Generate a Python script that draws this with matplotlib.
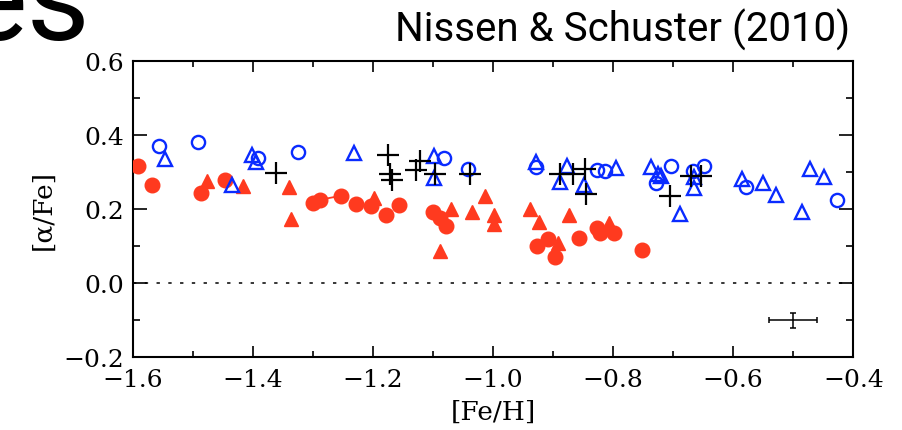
import matplotlib
matplotlib.use("Agg")
import matplotlib.pyplot as plt
from matplotlib.ticker import MultipleLocator

plt.rcParams["font.family"] = "DejaVu Serif"
plt.rcParams["font.size"] = 18

# low-alpha halo stars (red filled circles)
halo_lo_circ_feh = [-1.591, -1.568, -1.486, -1.447, -1.299, -1.228, -1.203, -1.178,
                    -1.156, -1.100, -1.089, -1.079, -0.926, -0.909, -0.896, -0.856,
                    -0.827, -0.821, -0.798, -0.752]
halo_lo_circ_afe = [0.317, 0.267, 0.244, 0.279, 0.218, 0.215, 0.210, 0.186,
                    0.213, 0.194, 0.177, 0.156, 0.102, 0.120, 0.071, 0.122,
                    0.150, 0.137, 0.136, 0.091]
# pair joined by a line
pair_feh = [-1.288, -1.253]
pair_afe = [0.226, 0.237]

# red filled triangles
halo_lo_tri_feh = [-1.477, -1.416, -1.339, -1.337, -1.198, -1.070, -1.089, -1.035,
                   -1.013, -0.999, -0.999, -0.938, -0.924, -0.892, -0.874, -0.806]
halo_lo_tri_afe = [0.278, 0.263, 0.260, 0.174, 0.231, 0.201, 0.087, 0.194,
                   0.237, 0.186, 0.161, 0.201, 0.165, 0.109, 0.186, 0.163]

# high-alpha halo stars (blue open circles / triangles)
halo_hi_circ_feh = [-1.557, -1.492, -1.392, -1.324, -1.082, -1.041, -0.928, -0.827,
                    -0.813, -0.729, -0.703, -0.667, -0.648, -0.579, -0.427]
halo_hi_circ_afe = [0.371, 0.382, 0.338, 0.355, 0.338, 0.308, 0.314, 0.307,
                    0.305, 0.271, 0.317, 0.305, 0.318, 0.260, 0.226]

halo_hi_tri_feh = [-1.547, -1.435, -1.402, -1.394, -1.232, -1.098, -1.098, -0.928,
                   -0.876, -0.888, -0.849, -0.795, -0.737, -0.726, -0.720, -0.688,
                   -0.666, -0.665, -0.585, -0.550, -0.528, -0.485, -0.472, -0.449]
halo_hi_tri_afe = [0.336, 0.266, 0.347, 0.329, 0.352, 0.345, 0.284, 0.328,
                   0.318, 0.273, 0.266, 0.311, 0.314, 0.296, 0.289, 0.188,
                   0.287, 0.257, 0.282, 0.271, 0.239, 0.192, 0.308, 0.287]

# thick disk (black plus)
disk_feh = [-1.361, -1.174, -1.171, -1.168, -1.129, -1.121, -1.096, -1.039,
            -0.888, -0.866, -0.846, -0.845, -0.705, -0.671, -0.654]
disk_afe = [0.299, 0.348, 0.296, 0.280, 0.307, 0.330, 0.296, 0.296,
            0.296, 0.296, 0.309, 0.242, 0.237, 0.291, 0.291]

# typical error bar
err_x, err_y = -0.50, -0.10
err_dx, err_dy = 0.04, 0.02

red = "#ff3a1f"
blue = "#0a2bff"

fig = plt.figure(figsize=(9.02, 4.31), dpi=100)
ax = fig.add_axes([0.1471, 0.1687, 0.7989, 0.6863])

ax.plot(pair_feh, pair_afe, color=red, lw=1.3, zorder=2)
ax.plot(halo_lo_circ_feh + pair_feh, halo_lo_circ_afe + pair_afe, "o", ms=10.5,
        color=red, mec=red, ls="none", zorder=3)
ax.plot(halo_lo_tri_feh, halo_lo_tri_afe, "^", ms=9.5, color=red, mec=red,
        ls="none", zorder=3)
ax.plot(halo_hi_circ_feh, halo_hi_circ_afe, "o", ms=9.5, mfc="none", mec=blue,
        mew=1.7, ls="none", zorder=4)
ax.plot(halo_hi_tri_feh, halo_hi_tri_afe, "^", ms=10, mfc="none", mec=blue,
        mew=1.7, ls="none", zorder=4)
ax.plot(disk_feh, disk_afe, "+", ms=16, color="black", mew=1.6, ls="none",
        zorder=5)

ax.errorbar([err_x], [err_y], xerr=[err_dx], yerr=[err_dy], color="black",
            lw=1.1, capsize=2.5, capthick=1.1)

ax.axhline(0.0, color="black", lw=1.1, ls=(0, (2.2, 5.5)), zorder=1)

ax.set_xlim(-1.6, -0.4)
ax.set_ylim(-0.2, 0.6)
ax.xaxis.set_major_locator(MultipleLocator(0.2))
ax.xaxis.set_minor_locator(MultipleLocator(0.1))
ax.yaxis.set_major_locator(MultipleLocator(0.2))
ax.yaxis.set_minor_locator(MultipleLocator(0.1))
ax.tick_params(which="both", direction="in", top=True, right=True, width=1.2,
               labelsize=18)
ax.tick_params(axis="x", which="major", length=8, pad=8)
ax.tick_params(axis="x", which="minor", length=4)
ax.tick_params(axis="y", which="major", length=10, pad=6)
ax.tick_params(axis="y", which="minor", length=5)
for s in ax.spines.values():
    s.set_linewidth(1.5)

ax.set_xlabel("[Fe/H]", fontsize=19, labelpad=5)
ax.set_ylabel("[\u03b1/Fe]", fontsize=19, labelpad=6)

fig.text(0.942, 0.903, "Nissen & Schuster (2010)", ha="right", va="baseline",
         fontsize=29, family="Roboto")
fig.text(0.1, 0.907, "es", ha="right", va="baseline", fontsize=88,
         family="Roboto")

fig.savefig("out.png", dpi=100)
